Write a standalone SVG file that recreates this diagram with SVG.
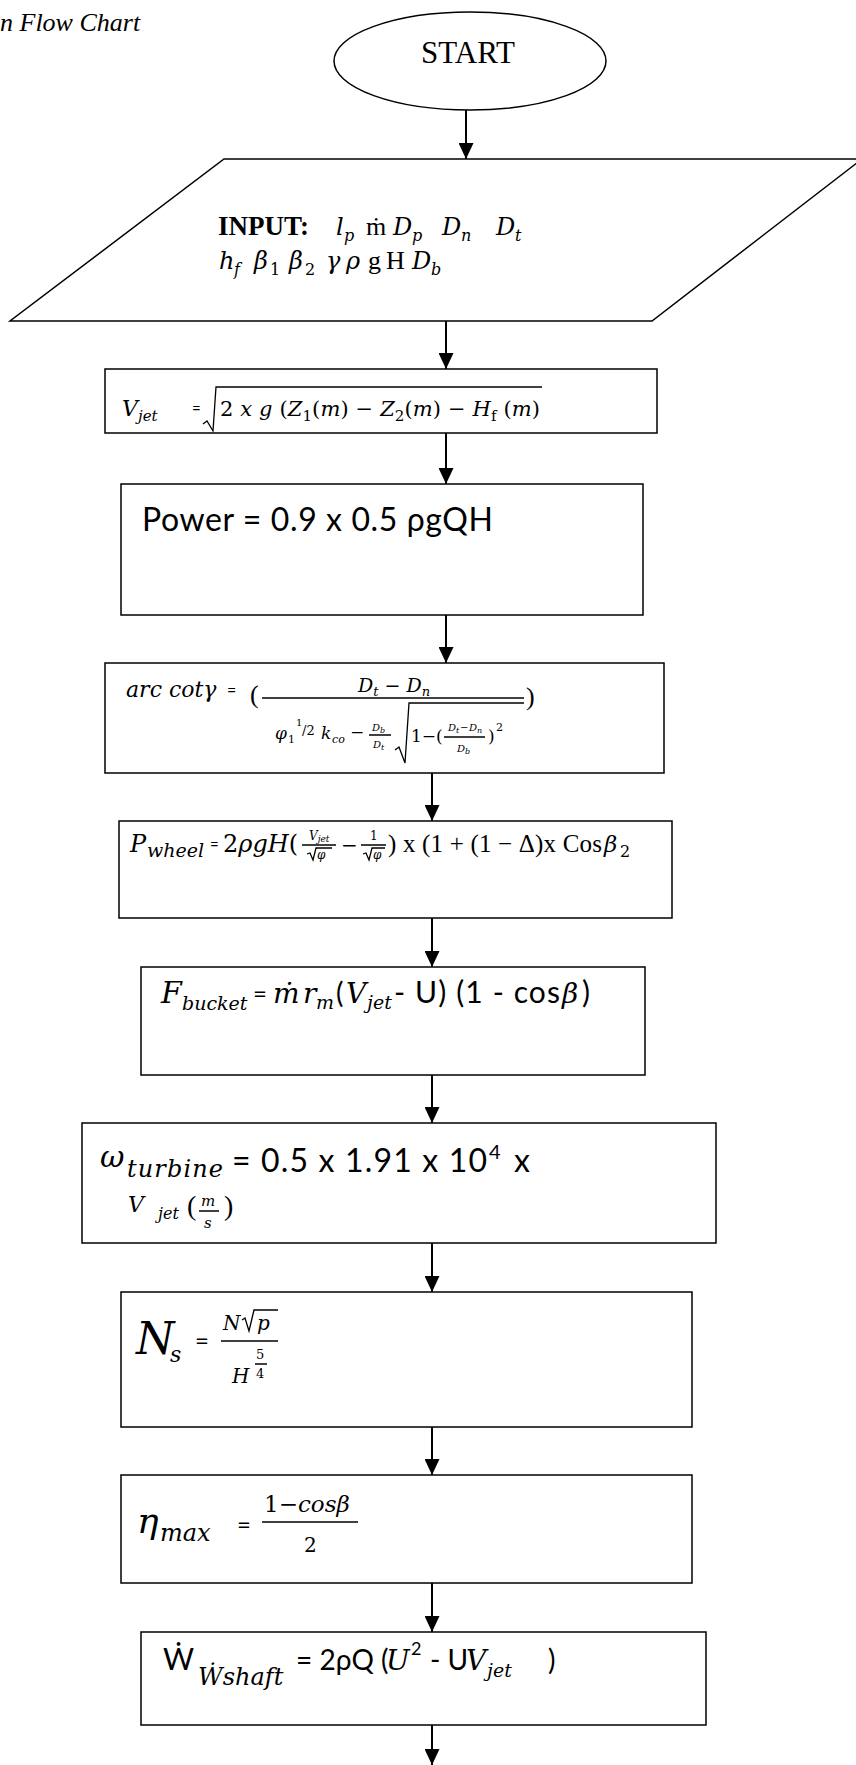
<svg xmlns="http://www.w3.org/2000/svg" width="856" height="1765" viewBox="0 0 856 1765">
<style>
.box{fill:#fff;stroke:#000;stroke-width:1.5}
.ln{fill:none;stroke:#000;stroke-width:1.3}
.bar{stroke:#000;stroke-width:1.5}
.con{stroke:#000;stroke-width:2;fill:none;marker-end:url(#ah)}
.se{font-family:"Liberation Serif",serif;fill:#000}
.m{font-family:"DejaVu Serif",serif;font-style:italic;fill:#000}
.it{font-style:italic}
.up{font-style:normal}
.sa{font-family:Lato,"Liberation Sans",sans-serif;fill:#000}
</style>
<defs>
<marker id="ah" markerUnits="userSpaceOnUse" markerWidth="16" markerHeight="15" refX="16" refY="7.5" orient="auto">
<path d="M0,0 L16,7.5 L0,15 z" fill="#000"/>
</marker>
</defs>
<rect width="856" height="1765" fill="#fff"/>
<text class="se it" font-size="26" x="0" y="31">n Flow Chart</text>

<g id="connectors">
<line class="con" x1="466" y1="110" x2="466" y2="159"/>
<line class="con" x1="446" y1="321" x2="446" y2="369"/>
<line class="con" x1="446" y1="433" x2="446" y2="484"/>
<line class="con" x1="446" y1="615" x2="446" y2="663"/>
<line class="con" x1="432" y1="773" x2="432" y2="821"/>
<line class="con" x1="432" y1="918" x2="432" y2="967"/>
<line class="con" x1="432" y1="1075" x2="432" y2="1123"/>
<line class="con" x1="432" y1="1243" x2="432" y2="1292"/>
<line class="con" x1="432" y1="1427" x2="432" y2="1475"/>
<line class="con" x1="432" y1="1583" x2="432" y2="1632"/>
<line class="con" x1="432" y1="1725" x2="432" y2="1765"/>
</g>

<g id="start">
<ellipse class="box" cx="470" cy="61" rx="136" ry="49"/>
<text class="se" font-size="31" x="468" y="63" text-anchor="middle">START</text>
</g>

<g id="input">
<polygon class="box" points="224,159 862,159 652,321 10,321"/>
<text class="se" font-size="27" font-weight="bold" x="218" y="235">INPUT:</text>
<text class="m" font-size="24" y="235"><tspan x="336">l</tspan><tspan x="344" y="241" font-size="16">p</tspan><tspan x="366" y="235" class="se up" font-size="26">ṁ</tspan><tspan x="393">D</tspan><tspan x="412" y="241" font-size="16">p</tspan><tspan x="442" y="235">D</tspan><tspan x="461" y="241" font-size="16">n</tspan><tspan x="496" y="235">D</tspan><tspan x="515" y="241" font-size="16">t</tspan></text>
<text class="m" font-size="24" y="269"><tspan x="219">h</tspan><tspan x="234" y="275" font-size="16">f</tspan><tspan x="254" y="269">β</tspan><tspan x="270" y="275" font-size="16" class="up">1</tspan><tspan x="289" y="269">β</tspan><tspan x="305" y="275" font-size="16" class="up">2</tspan><tspan x="326" y="269">γ</tspan><tspan x="346">ρ</tspan><tspan x="368" class="se up" font-size="26">g</tspan><tspan x="386" class="se up" font-size="26">H</tspan><tspan x="412">D</tspan><tspan x="431" y="275" font-size="16">b</tspan></text>
</g>

<g id="vjet">
<rect class="box" x="105" y="369" width="552" height="64"/>
<text class="m" font-size="22" x="122" y="416">V</text>
<text class="m" font-size="15" x="138" y="421">jet</text>
<text class="sa" font-size="15" x="192" y="414">=</text>
<path class="ln" d="M203,424 L207,421 L213,431 L216,387 L542,387"/>
<text class="m" font-size="21" x="220" y="416" textLength="320"><tspan class="up">2 </tspan>x g <tspan class="up">(</tspan>Z<tspan dy="5" font-size="15" class="up">1</tspan><tspan dy="-5" class="up">(</tspan>m<tspan class="up">) − </tspan>Z<tspan dy="5" font-size="15" class="up">2</tspan><tspan dy="-5" class="up">(</tspan>m<tspan class="up">) −  </tspan>H<tspan dy="5" font-size="15" class="up">f</tspan><tspan dy="-5" class="up"> (</tspan>m<tspan class="up">)</tspan></text>
</g>

<g id="power">
<rect class="box" x="121" y="484" width="522" height="131"/>
<text class="sa" font-size="32" x="142" y="531" textLength="351">Power = 0.9 x 0.5 ρgQH</text>
</g>

<g id="arccot">
<rect class="box" x="105" y="663" width="559" height="110"/>
<text class="m" font-size="22" x="126" y="697">arc cotγ</text>
<text class="sa" font-size="16" x="227" y="696">=</text>
<text class="se" font-size="26" x="250" y="703">(</text>
<text class="m" font-size="19" x="358" y="692">D<tspan dy="4" font-size="13">t</tspan><tspan dy="-4" class="up"> − </tspan>D<tspan dy="4" font-size="13">n</tspan></text>
<line class="bar" x1="262" y1="698" x2="524" y2="698"/>
<path class="ln" d="M395,750 L399,747 L405,763 L409,703 H524"/>
<text class="se" font-size="26" x="526" y="705">)</text>
<text class="m" font-size="17" y="739"><tspan x="275">φ</tspan><tspan x="288" y="743" font-size="11" class="up">1</tspan><tspan x="296" y="726" font-size="10" class="up">1</tspan><tspan x="302" y="735" font-size="13" class="up">/2</tspan><tspan x="321" y="739">k</tspan><tspan x="332" y="743" font-size="11">co</tspan><tspan x="350" y="738" class="up">−</tspan></text>
<text class="m" font-size="10" y="731"><tspan x="372">D</tspan><tspan x="380" y="733" font-size="8">b</tspan><tspan x="373" y="748">D</tspan><tspan x="381" y="750" font-size="8">t</tspan></text>
<line class="bar" x1="369" y1="735" x2="391" y2="735" stroke-width="1"/>
<text class="m up" font-size="17" x="411" y="742">1−(</text>
<text class="m" font-size="10" y="731"><tspan x="448">D</tspan><tspan x="456" y="733" font-size="8">t</tspan><tspan x="460" y="731" class="up">−</tspan><tspan x="469">D</tspan><tspan x="477" y="733" font-size="8">n</tspan><tspan x="457" y="752">D</tspan><tspan x="465" y="754" font-size="8">b</tspan></text>
<line class="bar" x1="444" y1="737" x2="485" y2="737" stroke-width="1"/>
<text class="m up" font-size="17" x="488" y="742">)</text>
<text class="m up" font-size="11" x="496" y="731">2</text>
</g>

<g id="pwheel">
<rect class="box" x="119" y="821" width="553" height="97"/>
<text class="m" font-size="24" x="130" y="852">P</text>
<text class="m" font-size="19" x="147" y="857">wheel</text>
<text class="sa" font-size="15" x="210" y="850">=</text>
<text class="m" font-size="24" x="223" y="852"><tspan class="up">2</tspan>ρgH<tspan class="up">(</tspan></text>
<text class="m" font-size="12" x="309" y="840">V<tspan dy="2" font-size="9">jet</tspan></text>
<line class="bar" x1="302" y1="845" x2="336" y2="845" stroke-width="1"/>
<path class="ln" d="M307,854 L310,853 L313,860 L316,848 H332" stroke-width="1"/>
<text class="m" font-size="12" x="317" y="859">φ</text>
<text class="m up" font-size="20" x="341" y="852">−</text>
<text class="m up" font-size="12" x="370" y="840">1</text>
<line class="bar" x1="361" y1="845" x2="386" y2="845" stroke-width="1"/>
<path class="ln" d="M363,854 L366,853 L369,860 L372,848 H385" stroke-width="1"/>
<text class="m" font-size="12" x="373" y="859">φ</text>
<text class="se" font-size="25" x="388" y="852" textLength="214">) x (1 + (1 − Δ)x Cos</text>
<text class="m" font-size="23" x="604" y="852">β</text>
<text class="m up" font-size="16" x="620" y="857">2</text>
</g>

<g id="fbucket">
<rect class="box" x="141" y="967" width="504" height="108"/>
<text class="m" font-size="30" x="161" y="1003">F</text>
<text class="m" font-size="19" x="182" y="1010">bucket</text>
<text class="sa" font-size="24" x="253" y="1002">=</text>
<text class="m" font-size="28" x="273" y="1003">ṁ</text>
<text class="m" font-size="28" x="303" y="1003">r</text>
<text class="m" font-size="19" x="316" y="1009">m</text>
<text class="sa" font-size="28" x="336" y="1003">(</text>
<text class="m" font-size="28" x="346" y="1003">V</text>
<text class="m" font-size="19" x="367" y="1009">jet</text>
<text class="sa" font-size="30" x="394" y="1003" textLength="166"> - U) (1 - cos</text>
<text class="m" font-size="28" x="562" y="1003">β</text>
<text class="sa" font-size="30" x="582" y="1003">)</text>
</g>

<g id="omega">
<rect class="box" x="82" y="1123" width="634" height="120"/>
<text class="m" font-size="30" x="100" y="1167">ω</text>
<text class="m" font-size="24" x="127" y="1177" textLength="96">turbine</text>
<text class="sa" font-size="32" x="232" y="1172" textLength="255">= 0.5 x 1.91 x 10</text>
<text class="sa" font-size="20" x="489" y="1159">4</text>
<text class="sa" font-size="32" x="514" y="1172">x</text>
<text class="m" font-size="22" x="128" y="1212">V</text>
<text class="m" font-size="16" x="158" y="1219">jet</text>
<text class="se" font-size="28" x="187" y="1215">(</text>
<text class="m" font-size="15" x="201" y="1206">m</text>
<line class="bar" x1="199" y1="1211" x2="219" y2="1211"/>
<text class="m" font-size="15" x="204" y="1228">s</text>
<text class="se" font-size="28" x="224" y="1215">)</text>
</g>

<g id="ns">
<rect class="box" x="121" y="1292" width="571" height="135"/>
<text class="m" font-size="44" x="136" y="1354">N</text>
<text class="m" font-size="22" x="170" y="1362">s</text>
<text class="sa" font-size="24" x="195" y="1349">=</text>
<text class="m" font-size="20" x="223" y="1330">N</text>
<path class="ln" d="M242,1320 L245,1318 L249,1331 L254,1310 H278"/>
<text class="m" font-size="20" x="257" y="1330">p</text>
<line class="bar" x1="221" y1="1341" x2="278" y2="1341" stroke-width="2.5"/>
<text class="m" font-size="20" x="232" y="1383">H</text>
<text class="m up" font-size="13" x="256" y="1359">5</text>
<line class="bar" x1="255" y1="1364" x2="267" y2="1364" stroke-width="2"/>
<text class="m up" font-size="13" x="256" y="1378">4</text>
</g>

<g id="eta">
<rect class="box" x="121" y="1475" width="571" height="108"/>
<text class="m" font-size="36" x="137" y="1533">η</text>
<text class="m" font-size="24" x="160" y="1541">max</text>
<text class="sa" font-size="24" x="237" y="1533">=</text>
<text class="m" font-size="23" x="264" y="1512"><tspan class="up">1−</tspan>cosβ</text>
<line class="bar" x1="262" y1="1522" x2="358" y2="1522" stroke-width="2"/>
<text class="m up" font-size="20" x="304" y="1552">2</text>
</g>

<g id="wshaft">
<rect class="box" x="141" y="1632" width="565" height="93"/>
<text class="sa" font-size="30" x="163" y="1670">Ẇ</text>
<text class="m" font-size="24" x="198" y="1685">Ẇshaft</text>
<text class="sa" font-size="28" x="296" y="1670">= 2ρQ (</text>
<text class="m" font-size="28" x="386" y="1670">U</text>
<text class="sa" font-size="18" x="411" y="1655">2</text>
<text class="sa" font-size="28" x="430" y="1670">- U</text>
<text class="m" font-size="28" x="466" y="1670">V</text>
<text class="m" font-size="19" x="487" y="1677">jet</text>
<text class="sa" font-size="28" x="548" y="1670">)</text>
</g>
</svg>
